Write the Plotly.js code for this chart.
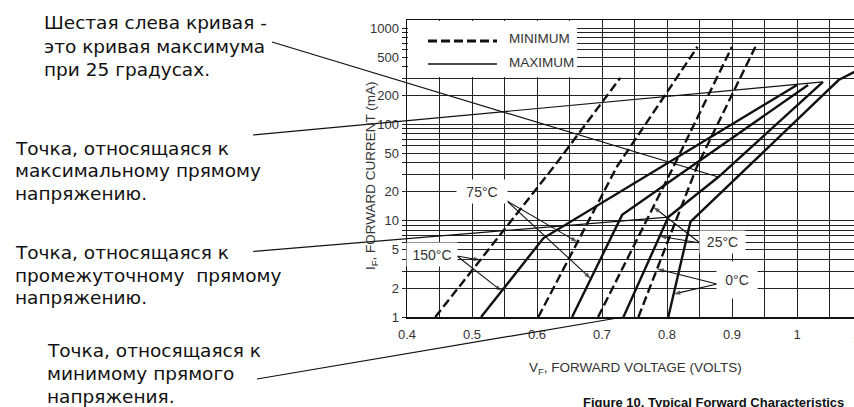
<!DOCTYPE html>
<html><head><meta charset="utf-8">
<script src="https://cdn.plot.ly/plotly-3.0.1.min.js"></script>
<style>
html,body{margin:0;padding:0;overflow:hidden;background:#fff;width:854px;height:407px}
#chart{width:880px;height:407px}
</style>
</head><body><div id="chart"></div>
<script>
// ---- data: forward voltage (V) / forward current (mA) ----
const min150V = [0.4435, 0.626, 0.728];
const min150I = [1, 36.4, 303];
const max150V = [0.514, 0.610, 1.000];
const max150I = [1, 6.6, 257];
const min75V = [0.602, 0.723, 0.847];
const min75I = [1, 36.4, 640];
const max75V = [0.654, 0.731, 1.017];
const max75I = [1, 11.5, 257];
const min25V = [0.694, 0.810, 0.900];
const min25I = [1, 36.4, 640];
const max25V = [0.733, 0.802, 0.879, 1.040];
const max25I = [1, 10.9, 28.4, 276];
const min0V = [0.756, 0.846, 0.936];
const min0I = [1, 36.4, 640];
const max0V = [0.802, 0.836, 1.064, 1.100];
const max0I = [1, 9.7, 289, 386];

const tempLabels = ['150°C', '75°C', '25°C', '0°C'];
// currents (mA) at which the label arrows touch the MIN / MAX curves
const arrowMinI = [3.9, 6.0, 13.9, 3.15];
const arrowMaxI = [1.86, 2.5, 6.9, 1.73];

const xTickVals = [0.4, 0.5, 0.6, 0.7, 0.8, 0.9, 1.0, 1.1];
const xTickText = ['0.4', '0.5', '0.6', '0.7', '0.8', '0.9', '1', '1.1'];
const xMinorVals = [0.45, 0.55, 0.65, 0.75, 0.85, 0.95, 1.05];
const yTickVals = [1, 2, 5, 10, 20, 50, 100, 200, 500, 1000];
const yTickText = ['1', '2', '5', '10', '20', '50', '100', '200', '500', '1000'];
const yMinorVals = [3, 4, 6, 7, 8, 9, 30, 40, 60, 70, 80, 90, 300, 400, 600, 700, 800, 900];

const notes = [
  ['Шестая слева кривая -', 'это кривая максимума', 'при 25 градусах.'],
  ['Точка, относящаяся к', 'максимальному прямому', 'напряжению.'],
  ['Точка, относящаяся к', 'промежуточному  прямому', 'напряжению.'],
  ['Точка, относящаяся к', 'минимому прямого', 'напряжения.']
];
// which point of the 25 °C MAX curve each note points to
const notePoint = [2, 3, 1, 0];

// ---- geometry ----
const L = 407, T = 20, W = 468, H = 297, FULLW = 880, FULLH = 407;
const X0 = 0.4, PXV = 650, PXDEC = 96.3;
const px2paperX = px => (px - L) / W;
const py2paperY = py => (T + H - py) / H;
const px2V = px => X0 + (px - L) / PXV;
const py2I = py => Math.pow(10, (T + H - py) / PXDEC);
const V2paperX = v => (v - X0) * PXV / W;
const I2paperY = i => Math.log10(i) * PXDEC / H;

function vAt(Vs, Is, I) {
  const li = Math.log10(I);
  for (let k = 0; k < Is.length - 1; k++) {
    const a = Math.log10(Is[k]), b = Math.log10(Is[k + 1]);
    if (li >= a && li <= b) return Vs[k] + (Vs[k + 1] - Vs[k]) * (li - a) / (b - a);
  }
  return Vs[0];
}

const ink = '#111';
const dashStyle = '9px,4px';
function curve(V, I, dashed) {
  return {x: V, y: I, type: 'scatter', mode: 'lines', showlegend: false, hoverinfo: 'skip',
    line: {color: ink, width: 2.4, dash: dashed ? dashStyle : 'solid'}};
}
const data = [
  curve(min150V, min150I, true), curve(max150V, max150I, false),
  curve(min75V, min75I, true), curve(max75V, max75I, false),
  curve(min25V, min25I, true), curve(max25V, max25I, false),
  curve(min0V, min0I, true), curve(max0V, max0I, false)
];

// temperature label arrows (thin lines with small arrowheads, ending on the curves)
const mins = [[min150V, min150I], [min75V, min75I], [min25V, min25I], [min0V, min0I]];
const maxs = [[max150V, max150I], [max75V, max75I], [max25V, max25I], [max0V, max0I]];
const tailXY = [[457, 256], [507, 201], [700, 243], [717, 284]];
function arrowTrace(tx, ty, V, I) {
  return {x: [px2V(tx), V], y: [py2I(ty), I], type: 'scatter', mode: 'lines+markers',
    showlegend: false, hoverinfo: 'skip', cliponaxis: false,
    line: {color: ink, width: 1.1},
    marker: {symbol: 'arrow', size: [0, 7], angleref: 'previous', color: ink, line: {width: 0}}};
}
tempLabels.forEach((t, k) => {
  const iMin = arrowMinI[k], iMax = arrowMaxI[k];
  data.push(arrowTrace(tailXY[k][0], tailXY[k][1], vAt(mins[k][0], mins[k][1], iMin), iMin));
  data.push(arrowTrace(tailXY[k][0], tailXY[k][1], vAt(maxs[k][0], maxs[k][1], iMax), iMax));
});

const chartFont = 'Liberation Sans, Arial, sans-serif';
const ann = [];
function label(text, px, py, opts) {
  ann.push(Object.assign({text: text, xref: 'paper', yref: 'paper', x: px2paperX(px), y: py2paperY(py),
    showarrow: false, font: {family: chartFont, size: 13, color: '#333'}, xanchor: 'center', yanchor: 'middle'}, opts || {}));
}

const shapes = [
  // white legend panel covering the grid
  {type: 'rect', xref: 'paper', yref: 'paper', x0: px2paperX(L + 1), x1: px2paperX(577), y0: py2paperY(77), y1: py2paperY(T + 1),
    fillcolor: '#fff', line: {width: 0}, layer: 'above'},
  {type: 'line', xref: 'paper', yref: 'paper', x0: px2paperX(428), x1: px2paperX(497), y0: py2paperY(41), y1: py2paperY(41),
    line: {color: ink, width: 2.8, dash: dashStyle}, layer: 'above'},
  {type: 'line', xref: 'paper', yref: 'paper', x0: px2paperX(428), x1: px2paperX(497), y0: py2paperY(64), y1: py2paperY(64),
    line: {color: ink, width: 1.3}, layer: 'above'}
];

// Russian notes with connector lines to points of the 25 °C maximum curve
const noteX = [42, 13, 13, 45];
const noteY = [[23, 46.5, 69], [148, 170.5, 193], [252, 275, 297], [350, 373, 396]];
const noteTail = [[272, 42], [253, 135], [253, 251.5], [257, 379]];
notes.forEach((lines, n) => {
  lines.forEach((t, k) => label(t, noteX[n], noteY[n][k],
    {xanchor: 'left', font: {family: 'DejaVu Sans, sans-serif', size: 18.5, color: '#111'}}));
  const p = notePoint[n];
  shapes.push({type: 'line', xref: 'paper', yref: 'paper',
    x0: px2paperX(noteTail[n][0]), y0: py2paperY(noteTail[n][1]),
    x1: V2paperX(max25V[p]), y1: I2paperY(max25I[p]),
    line: {color: ink, width: 1.2}, layer: 'above'});
});

// temperature labels on white patches
const boxC = [[432, 254.5, 50, 23], [482, 191.5, 50, 23], [722.5, 242, 45, 22], [737, 280, 40, 36]];
tempLabels.forEach((t, k) => {
  label(t, boxC[k][0], boxC[k][1], {bgcolor: '#fff', width: boxC[k][2], height: boxC[k][3], borderpad: 0,
    font: {family: chartFont, size: 14, color: '#333'}});
});

// legend text
label('MINIMUM', 507, 38.5, {xanchor: 'left', font: {family: chartFont, size: 13.5, color: '#333'}});
label('MAXIMUM', 507, 62, {xanchor: 'left', font: {family: chartFont, size: 13.5, color: '#333'}});

// axis titles and caption
label('V<sub>F</sub>, FORWARD VOLTAGE (VOLTS)', 635, 368, {font: {family: chartFont, size: 13.5, color: '#333'}});
label('I<sub>F</sub>, FORWARD CURRENT (mA)', 371, 176, {textangle: -90, font: {family: chartFont, size: 13.5, color: '#333'}});
label('<b>Figure 10. Typical Forward Characteristics</b>', 713, 402, {font: {family: chartFont, size: 13, color: '#111'}});

const layout = {
  width: FULLW, height: FULLH,
  margin: {l: L, t: T, r: FULLW - L - W, b: FULLH - T - H, pad: 0},
  paper_bgcolor: '#fff', plot_bgcolor: '#fff',
  showlegend: false,
  xaxis: {range: [X0, X0 + W / PXV], tickmode: 'array', tickvals: xTickVals, ticktext: xTickText, showgrid: true,
    gridcolor: '#222', gridwidth: 1, showline: true, linecolor: '#111', linewidth: 1.5, mirror: true,
    ticks: '', ticklabelstandoff: 5, zeroline: false, tickfont: {family: chartFont, size: 13, color: '#333'},
    minor: {tickmode: 'array', tickvals: xMinorVals, showgrid: true, gridcolor: '#222', gridwidth: 1, ticks: ''}},
  yaxis: {type: 'log', range: [0, H / PXDEC], tickmode: 'array', tickvals: yTickVals, ticktext: yTickText, showgrid: true,
    gridcolor: '#222', gridwidth: 1, showline: true, linecolor: '#111', linewidth: 1.5, mirror: true,
    ticks: 'outside', ticklen: 4, tickcolor: '#222', zeroline: false,
    tickfont: {family: chartFont, size: 13, color: '#333'},
    minor: {tickmode: 'array', tickvals: yMinorVals, showgrid: true, gridcolor: '#222', gridwidth: 1,
      ticks: 'outside', ticklen: 4, tickcolor: '#222'}},
  annotations: ann,
  shapes: shapes
};
Plotly.newPlot('chart', data, layout, {displayModeBar: false, staticPlot: true});
</script>
</body></html>
